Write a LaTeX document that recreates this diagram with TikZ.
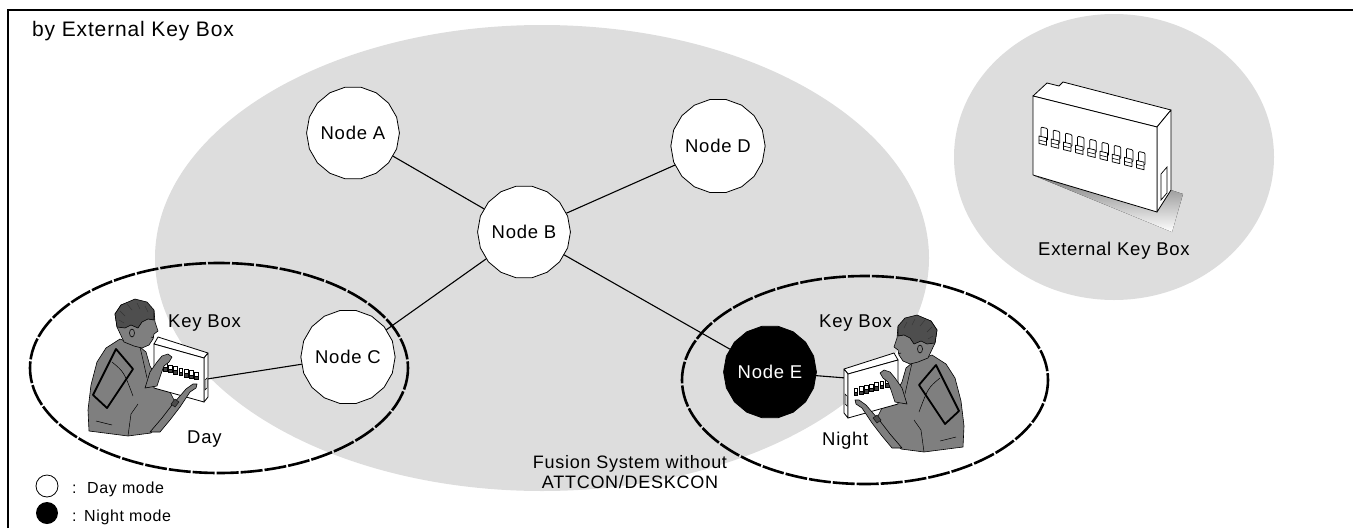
\documentclass[tikz,border=0pt]{standalone}
\usepackage{fontspec}
\setmainfont{Liberation Sans}[LetterSpace=4]
\usetikzlibrary{shapes.geometric}

\definecolor{zone}{HTML}{DDDDDD}
\definecolor{cloth}{HTML}{7F7F7F}
\definecolor{hairc}{HTML}{4E4E4E}
\definecolor{shade}{HTML}{B0B0B0}

\pgfdeclarelayer{zones}
\pgfdeclarelayer{wires}
\pgfsetlayers{zones,wires,main}

\tikzset{
  station/.style={regular polygon, regular polygon sides=18, minimum size=87pt,
    inner sep=0pt, draw, line width=0.8pt, fill=white,
    font=\fontsize{18.5}{20}\selectfont},
  nightstation/.style={station, fill=black, text=white},
  link/.style={line width=1.1pt},
  dashring/.style={line width=2.6pt, dash pattern=on 22pt off 2pt},
  lbl/.style={inner sep=0pt, anchor=base west, font=\fontsize{18.5}{20}\selectfont},
  legendtxt/.style={inner sep=0pt, anchor=base west, font=\fontsize{16}{18}\selectfont},
  skin/.style={fill=cloth, draw=black, line width=0.6pt, line join=round},
  hairstyle/.style={fill=hairc, draw=black, line width=0.6pt, line join=round},
  boxface/.style={fill=white, draw=black, line width=0.8pt, line join=round},
  sw/.style={fill=white, draw=black, line width=0.75pt, line join=round},
  % person operating a wall key box
  pics/keyperson/.style={code={
    % torso
    \draw[skin] (120,339) -- (106,348) -- (97,362) -- (91,385) -- (88,410) -- (89,431)
      -- (128,436) -- (151,433) -- (162,421) -- (176,404) -- (170,392) -- (158,380)
      -- (150,366) -- (146,352) -- (140,347) -- cycle;
    % jacket folds
    \draw[line width=0.5pt] (140,347) -- (143,360) -- (147,378);
    \draw[line width=0.5pt] (112,362) .. controls (124,372) .. (133,396);
    \draw[line width=0.5pt] (128,436) -- (131,414) -- (138,404);
    \draw[line width=0.5pt] (96,421) -- (112,425);
    % shoulder strap
    \draw[line width=1.8pt, line join=round] (93,395) -- (116,349) -- (133,369) -- (107,408) -- cycle;
    % head
    \draw[skin] (117,327) -- (115,314) -- (121,305) -- (135,300) -- (147,303) -- (154,311)
      -- (155,322) -- (158,331) -- (154,334) -- (153,339) -- (149,345) -- (142,348)
      -- (134,346) -- (124,342) -- cycle;
    \draw[hairstyle] (117,327) -- (115,314) -- (121,305) -- (135,299) -- (147,302)
      -- (154,310) -- (154,320) -- (148,319) -- (142,322) -- (138,328) -- (131,325)
      -- (125,328) -- cycle;
    \draw[black!80, line width=0.4pt] (120,311) -- (125,316) (127,304) -- (132,310)
      (137,303) -- (140,309) (145,306) -- (148,312) (119,320) -- (124,323);
    \draw[skin] (132,333) ellipse (2.5 and 4);
    \draw[line width=0.5pt] (151,337) -- (154,338);
    % key box
    \draw[boxface] (154,344) -- (158,337) -- (208,353) -- (204,358) -- cycle;
    \draw[boxface] (204,358) -- (208,353) -- (208,397) -- (204,402) -- cycle;
    \draw[boxface] (154,344) -- (204,358) -- (204,402) -- (154,388) -- cycle;
    \draw[line width=0.5pt] (205,380) -- (207,378) -- (207,388) -- (205,390) -- cycle;
    \foreach \i in {0,...,7}{
      \pgfmathsetmacro{\sx}{158+5.2*\i}
      \pgfmathsetmacro{\sy}{362+1.45*\i}
      \draw[fill=white, line width=0.5pt] (\sx,\sy) rectangle ++(3.8,7);
      \draw[fill=black!75, line width=0.4pt] (\sx,\sy+4) rectangle ++(3.8,3.5);
    }
    % raised hand
    \draw[skin] (145,388) -- (150,372) -- (157,362) -- (162,356) -- (168,354) -- (172,357)
      -- (169,362) -- (164,366) -- (161,374) -- (157,386) -- cycle;
    % operating hand and forearm
    \draw[skin] (150,432) -- (162,418) -- (172,405) -- (180,396) -- (186,389) -- (193,384)
      -- (197,384) -- (196,388) -- (190,392) -- (186,398) -- (180,407) -- (170,420)
      -- (160,432) -- cycle;
    \draw[fill=black!70, line width=0.4pt] (171,404) -- (175,399) -- (179,402) -- (175,407) -- cycle;
  }}
}

\begin{document}
\begin{tikzpicture}[x=1pt, y=-1pt]
  \useasboundingbox (0,0) rectangle (1353,528);

  % shaded areas
  \begin{pgfonlayer}{zones}
    \fill[zone] (542,258) ellipse (387 and 233);
    \fill[zone] (1114,157) ellipse (160 and 143);
  \end{pgfonlayer}

  % open frame and heading
  \draw[line width=2.6pt] (8,528) -- (8,10) -- (1353,10);
  \node (title) [inner sep=0pt, anchor=base west, font=\fontsize{21}{23}\selectfont]
    at (32,36) {by External Key Box};

  % network nodes
  \node (nA) [station] at (353,133) {Node A};
  \node (nB) [station] at (524,232) {Node B};
  \node (nC) [station] at (348,357) {Node C};
  \node (nD) [station] at (718,146) {Node D};
  \node (nE) [nightstation] at (770,372) {Node E};

  % operators with their key boxes
  \pic (opL) at (0,0) {keyperson};
  \begin{scope}[shift={(1052,16)}]
    \begin{scope}[xscale=-1]
      \pic[transform shape] (opR) at (0,0) {keyperson};
    \end{scope}
  \end{scope}

  % key box terminals
  \coordinate (portL) at (207,379);
  \coordinate (portR) at (846,378);

  % links
  \begin{pgfonlayer}{wires}
    \draw[link] (nA) -- (nB);
    \draw[link] (nB) -- (nD);
    \draw[link] (nB) -- (nC);
    \draw[link] (nB) -- (nE);
    \draw[link] (nC) -- (portL);
    \draw[link] (nE) -- (portR);
  \end{pgfonlayer}

  % day / night zones
  \draw[dashring] (219,368) ellipse (189 and 105);
  \draw[dashring] (865,380) ellipse (183 and 104);

  % zone labels
  \node (klL) [lbl] at (168,327) {Key Box};
  \node (day) [lbl] at (187,443) {Day};
  \node (klR) [lbl] at (819,327) {Key Box};
  \node (night) [lbl] at (822,445) {Night};
  \node (fusion) [align=center, inner sep=0pt, font=\fontsize{18}{20}\selectfont]
    at (630,472) {Fusion System without\\ATTCON/DESKCON};

  % external key box
  \fill[shade] (1035,176) -- (1172,232) -- (1183,194) -- (1171,190) -- (1157,212) -- cycle;
  \draw[boxface] (1033,96) -- (1047,83) -- (1059,86) -- (1063,82) -- (1171,110) -- (1157,127) -- cycle;
  \draw[boxface] (1157,127) -- (1171,110) -- (1171,190) -- (1157,212) -- cycle;
  \draw[boxface] (1033,96) -- (1157,127) -- (1157,212) -- (1033,175) -- cycle;
  \draw[line width=0.7pt] (1161,174) -- (1167,167) -- (1167,193) -- (1161,200) -- cycle;
  \foreach \i in {0,...,8}{
    \pgfmathsetmacro{\sx}{1041+12.2*\i}
    \pgfmathsetmacro{\sy}{127+3.05*\i}
    \draw[sw, rounded corners=1pt] (\sx,\sy) -- ++(6.5,1.6) -- ++(0,12) -- ++(-6.5,-1.6) -- cycle;
    \draw[sw] (\sx-2,\sy+9) -- ++(7.5,1.8) -- ++(0,7.5) -- ++(-7.5,-1.8) -- cycle;
    \draw[line width=0.6pt] (\sx-2,\sy+13) -- ++(7.5,1.8);
  }
  \node (extlbl) [inner sep=0pt, anchor=base, font=\fontsize{18.5}{20}\selectfont]
    at (1114,255) {External Key Box};

  % legend
  \draw[line width=0.8pt, fill=white] (47,486) circle (11);
  \fill (47,513) circle (11);
  \node (lgc1) [legendtxt] at (72,493) {:};
  \node (lgday) [legendtxt] at (87,493) {Day mode};
  \node (lgc2) [legendtxt] at (72,521) {:};
  \node (lgnight) [legendtxt] at (84,521) {Night mode};
\end{tikzpicture}
\end{document}
